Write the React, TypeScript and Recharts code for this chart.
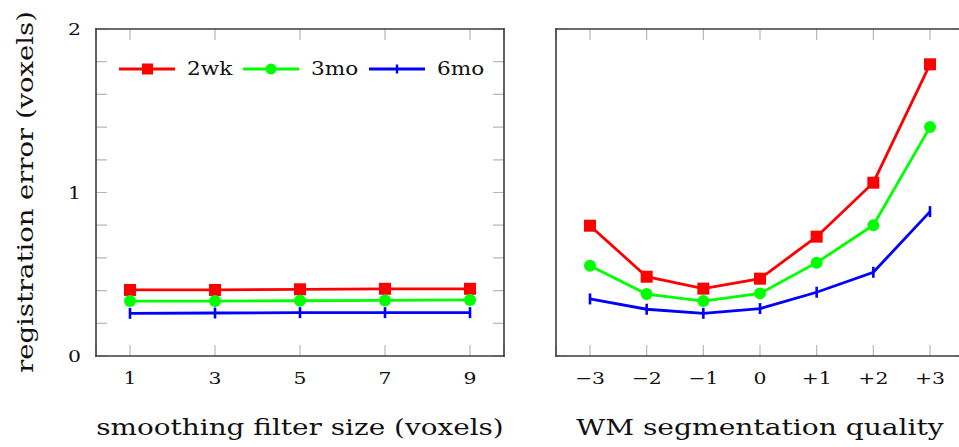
import React from 'react';
import { LineChart, Line, XAxis, YAxis, Legend, CartesianGrid } from 'recharts';

// left panel: smoothing filter size
const filterSizes = [1, 3, 5, 7, 9];
const filter2wk = [0.404, 0.404, 0.408, 0.411, 0.411];
const filter3mo = [0.336, 0.336, 0.338, 0.34, 0.343];
const filter6mo = [0.261, 0.263, 0.265, 0.265, 0.265];

// right panel: WM segmentation quality
const wmQuality = [-3, -2, -1, 0, 1, 2, 3];
const wmQualityLabels = ['\u22123', '\u22122', '\u22121', '0', '+1', '+2', '+3'];
const wm2wk = [0.797, 0.485, 0.412, 0.473, 0.73, 1.06, 1.784];
const wm3mo = [0.552, 0.379, 0.336, 0.383, 0.571, 0.8, 1.4];
const wm6mo = [0.349, 0.286, 0.261, 0.29, 0.39, 0.512, 0.883];

const yTicks = [0, 0.2, 0.4, 0.6, 0.8, 1, 1.2, 1.4, 1.6, 1.8, 2];
const yLabelled = [0, 1, 2];

const seriesNames = ['2wk', '3mo', '6mo'];
const RED = '#ff0000';
const GREEN = '#00ff00';
const BLUE = '#0000ff';

const FONT = 'DejaVu Serif';
const frame = { stroke: '#3c3c3c', strokeWidth: 1.6, strokeLinecap: 'square' as const };
const TICK_GREY = '#b8b8b8';
// plot box is 408 x 327 in both panels; grid dashes give the short inward ticks on all four sides
const PLOT_W = 408;
const PLOT_H = 327;
const TICK = 11;

const filterRows = filterSizes.map((x, i) => ({ x, a: filter2wk[i], b: filter3mo[i], c: filter6mo[i] }));
const wmRows = wmQuality.map((x, i) => ({ x, a: wm2wk[i], b: wm3mo[i], c: wm6mo[i] }));

const squareDot = (props: any) => (
  <rect key={props.index} x={props.cx - 6} y={props.cy - 6} width={12} height={12} fill={RED} />
);
const circleDot = (props: any) => (
  <circle key={props.index} cx={props.cx} cy={props.cy} r={6} fill={GREEN} />
);
const barDot = (props: any) => (
  <rect key={props.index} x={props.cx - 1.3} y={props.cy - 5.5} width={2.6} height={11} fill={BLUE} />
);

const bottomTick = (labels?: string[]) => (props: any) => {
  const v = props.payload.value;
  const i = labels ? wmQuality.indexOf(v) : -1;
  const txt = labels ? labels[i] : String(v);
  return (
    <text
      transform={`translate(${props.x},384) scale(1.2,1)`}
      textAnchor="middle"
      fontFamily={FONT}
      fontSize={17}
      fill="#111"
    >
      {txt}
    </text>
  );
};

const leftTick = (props: any) => {
  const v = props.payload.value;
  if (!yLabelled.includes(v)) return <g />;
  return (
    <text
      transform={`translate(81,${props.y + 6}) scale(1.2,1)`}
      textAnchor="end"
      fontFamily={FONT}
      fontSize={17}
      fill="#111"
    >
      {v}
    </text>
  );
};

const LegendBox = () => {
  const colors = [RED, GREEN, BLUE];
  const offs = [0, 124, 250];
  return (
    <svg width={380} height={24}>
      {seriesNames.map((name, i) => {
        const ox = offs[i];
        return (
          <g key={name}>
            <line x1={ox} x2={ox + 56} y1={11} y2={11} stroke={colors[i]} strokeWidth={2.8} />
            {i === 0 && <rect x={ox + 23} y={5.5} width={11} height={11} fill={RED} />}
            {i === 1 && <circle cx={ox + 28} cy={11} r={5.5} fill={GREEN} />}
            {i === 2 && <rect x={ox + 26.8} y={6.5} width={2.4} height={9} fill={BLUE} />}
            <text
              transform={`translate(${ox + 68},17) scale(1.2,1)`}
              fontFamily={FONT}
              fontSize={18}
              fill="#111"
            >
              {name}
            </text>
          </g>
        );
      })}
    </svg>
  );
};

const tickGrids = () => [
  <CartesianGrid key="gv" horizontal={false} stroke={TICK_GREY} strokeWidth={1.2}
    strokeDasharray={`${TICK} ${PLOT_H - 2 * TICK} ${TICK}`} />,
  <CartesianGrid key="gh" vertical={false} stroke={TICK_GREY} strokeWidth={1.2}
    strokeDasharray={`${TICK} ${PLOT_W - 2 * TICK} ${TICK}`} />,
];

const series = (withLegend: boolean) => [
  <Line key="a" dataKey="a" name="2wk" stroke={RED} strokeWidth={2.8} dot={squareDot} isAnimationActive={false} />,
  <Line key="b" dataKey="b" name="3mo" stroke={GREEN} strokeWidth={2.8} dot={circleDot} isAnimationActive={false} />,
  <Line key="c" dataKey="c" name="6mo" stroke={BLUE} strokeWidth={2.8} dot={barDot} isAnimationActive={false} />,
  withLegend ? (
    <Legend
      key="legend"
      layout="vertical"
      align="center"
      verticalAlign="middle"
      content={<LegendBox />}
      wrapperStyle={{ left: 119, top: 58, width: 380, height: 24 }}
    />
  ) : null,
];

export default function App() {
  return (
    <div style={{ position: 'absolute', left: 0, top: 0, width: 959, height: 447, overflow: 'hidden', background: '#fff' }}>
      <div style={{ position: 'absolute', left: 0, top: 0 }}>
        <LineChart width={530} height={447} data={filterRows} margin={{ top: 0, right: 0, bottom: 0, left: 0 }}>
          {tickGrids()}
          <XAxis type="number" dataKey="x" domain={[0.2, 9.8]} ticks={filterSizes} height={91}
            axisLine={frame} tickLine={false} tick={bottomTick()} />
          <XAxis xAxisId="top" orientation="top" type="number" dataKey="x" domain={[0.2, 9.8]} height={29}
            axisLine={frame} tickLine={false} tick={false} />
          <YAxis type="number" domain={[0, 2]} ticks={yTicks} width={96}
            axisLine={frame} tickLine={false} tick={leftTick} />
          <YAxis yAxisId="right" orientation="right" type="number" domain={[0, 2]} width={26}
            axisLine={frame} tickLine={false} tick={false} />
          {series(true)}
        </LineChart>
      </div>
      <div style={{ position: 'absolute', left: 520, top: 0 }}>
        <LineChart width={460} height={447} data={wmRows} margin={{ top: 0, right: 0, bottom: 0, left: 0 }}>
          {tickGrids()}
          <XAxis type="number" dataKey="x" domain={[-3.6, 3.6]} ticks={wmQuality} height={91}
            axisLine={frame} tickLine={false} tick={bottomTick(wmQualityLabels)} />
          <XAxis xAxisId="top" orientation="top" type="number" dataKey="x" domain={[-3.6, 3.6]} height={29}
            axisLine={frame} tickLine={false} tick={false} />
          <YAxis type="number" domain={[0, 2]} ticks={yTicks} width={36}
            axisLine={frame} tickLine={false} tick={false} />
          <YAxis yAxisId="right" orientation="right" type="number" domain={[0, 2]} width={16}
            axisLine={frame} tickLine={false} tick={false} />
          {series(false)}
        </LineChart>
      </div>
      <svg width={959} height={447} style={{ position: 'absolute', left: 0, top: 0, pointerEvents: 'none' }}>
        <text transform="translate(300,435) scale(1.24,1)" textAnchor="middle" fontFamily={FONT} fontSize={22.5} fill="#111">
          smoothing filter size (voxels)
        </text>
        <text transform="translate(760,435) scale(1.25,1)" textAnchor="middle" fontFamily={FONT} fontSize={22.5} fill="#111">
          WM segmentation quality
        </text>
        <text transform="translate(33,192) rotate(-90) scale(1.22,1)" textAnchor="middle" fontFamily={FONT} fontSize={22.5} fill="#111">
          registration error (voxels)
        </text>
      </svg>
    </div>
  );
}
